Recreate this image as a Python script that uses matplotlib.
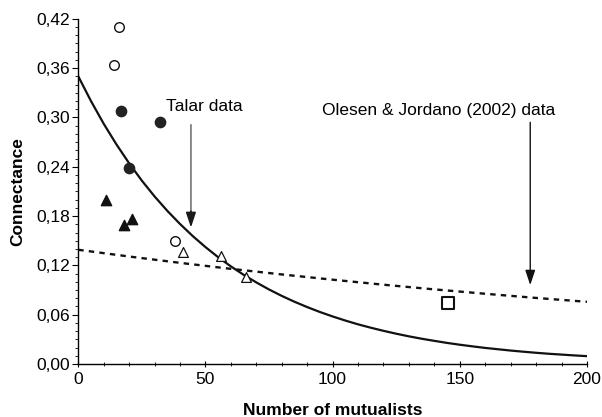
import numpy as np
import matplotlib.pyplot as plt
from matplotlib.ticker import MultipleLocator, FuncFormatter

plt.rcParams['font.family'] = ['Liberation Sans', 'DejaVu Sans']

# points
open_circ_x = [16.1, 13.9, 38.0]
open_circ_y = [0.410, 0.364, 0.150]
fill_circ_x = [17.0, 32.1, 20.0]
fill_circ_y = [0.308, 0.294, 0.238]
fill_tri_x = [11.1, 18.0, 21.2]
fill_tri_y = [0.199, 0.169, 0.176]
open_tri_x = [41.0, 56.1, 65.8]
open_tri_y = [0.136, 0.132, 0.106]
square_x = [145.2]
square_y = [0.0737]

# solid fitted curve (read every 5 mutualists)
solid_x = np.arange(0, 201, 5)
solid_y = [0.350, 0.3199, 0.2923, 0.2672, 0.2442, 0.2231, 0.2039, 0.1864, 0.1704,
           0.1557, 0.1423, 0.1300, 0.1188, 0.1086, 0.0993, 0.0907, 0.0829, 0.0758,
           0.0693, 0.0633, 0.0579, 0.0529, 0.0483, 0.0442, 0.0404, 0.0369, 0.0337,
           0.0308, 0.0282, 0.0257, 0.0235, 0.0215, 0.0196, 0.0180, 0.0164, 0.0150,
           0.0137, 0.0125, 0.0115, 0.0105, 0.0096]
# dashed fitted curve (read every 20)
dash_x = np.arange(0, 201, 20)
dash_y = [0.139, 0.1308, 0.1231, 0.1158, 0.1090, 0.1026, 0.0965, 0.0908, 0.0855,
          0.0804, 0.0757]

fig = plt.figure(figsize=(6.02, 4.17), dpi=100)
ax = fig.add_axes([0.130, 0.127, 0.845, 0.828])

ax.plot(solid_x, solid_y, color='#111111', lw=1.6, zorder=2)
ax.plot(dash_x, dash_y, color='#111111', lw=1.7, ls=(0, (2.3, 2.2)), zorder=2)

ax.scatter(open_circ_x, open_circ_y, s=48, facecolors='white', edgecolors='#111111', linewidths=1.0, zorder=3)
ax.scatter(fill_circ_x, fill_circ_y, s=55, color='#222222', zorder=3)
ax.scatter(fill_tri_x, fill_tri_y, s=55, marker='^', color='#111111', zorder=3)
ax.scatter(open_tri_x, open_tri_y, s=50, marker='^', facecolors='white', edgecolors='#111111', linewidths=0.9, zorder=3)
ax.scatter(square_x, square_y, s=70, marker='s', facecolors='white', edgecolors='#111111', linewidths=1.5, zorder=3)

# Talar arrow: grey shaft, dark head
ax.annotate('', xy=(44.3, 0.180), xytext=(44.3, 0.291),
            arrowprops=dict(arrowstyle='-', color='#808080', lw=1.3, shrinkA=0, shrinkB=0))
ax.annotate('', xy=(44.3, 0.166), xytext=(44.3, 0.186),
            arrowprops=dict(arrowstyle='-|>,head_length=0.9,head_width=0.3', color='#1a1a1a', lw=1.2, shrinkA=0, shrinkB=0))
ax.annotate('', xy=(177.7, 0.096), xytext=(177.7, 0.294),
            arrowprops=dict(arrowstyle='-|>,head_length=0.9,head_width=0.3', color='#111111', lw=1.0, shrinkA=0, shrinkB=0))
ax.text(34.3, 0.313, 'Talar data', fontsize=12.5, va='center', ha='left')
ax.text(95.8, 0.308, 'Olesen & Jordano (2002) data', fontsize=12.5, va='center', ha='left')

ax.set_xlim(0, 200)
ax.set_ylim(0, 0.42)
ax.xaxis.set_major_locator(MultipleLocator(50))
ax.xaxis.set_minor_locator(MultipleLocator(10))
ax.yaxis.set_major_locator(MultipleLocator(0.06))
ax.yaxis.set_minor_locator(MultipleLocator(0.01))
ax.yaxis.set_major_formatter(FuncFormatter(lambda v, p: ('%.2f' % v).replace('.', ',')))

ax.tick_params(axis='y', which='major', direction='out', length=4, width=0.8, labelsize=12.5, pad=2)
ax.tick_params(axis='y', which='minor', direction='out', length=2.5, width=0.6)
ax.tick_params(axis='x', which='major', direction='inout', length=4, width=0.8, labelsize=12.5, pad=4)
ax.tick_params(axis='x', which='minor', direction='inout', length=3, width=0.6)

for s in ['top', 'right']:
    ax.spines[s].set_visible(False)
for s in ['left', 'bottom']:
    ax.spines[s].set_linewidth(1.0)

ax.set_xlabel('Number of mutualists', fontsize=12.5, fontweight='bold', labelpad=11)
ax.set_ylabel('Connectance', fontsize=12.5, fontweight='bold', labelpad=8)

fig.savefig('out.png', dpi=100)
